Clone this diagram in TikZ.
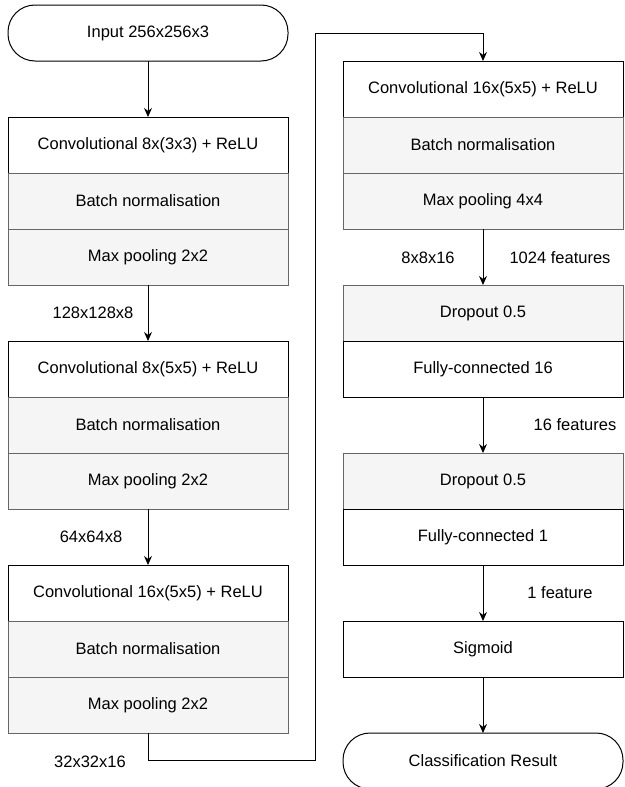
\documentclass[tikz,border=0pt]{standalone}
\usepackage{fontspec}
\setmainfont{Liberation Sans}
\usetikzlibrary{arrows.meta, positioning}
\definecolor{boxgray}{HTML}{F5F5F5}
\definecolor{linegray}{HTML}{666666}

\begin{document}
\begin{tikzpicture}[
    x=1pt, y=1pt,
    node distance=56pt,
    font=\fontsize{16.5}{20}\selectfont,
    layer/.style={rectangle, draw=black, fill=white, line width=1pt, minimum width=280pt, minimum height=56pt, outer sep=0pt, inner sep=0pt},
    sublayer/.style={layer, draw=linegray, fill=boxgray},
    terminal/.style={layer, rounded corners=27pt},
    dims/.style={inner sep=0pt},
    flow/.style={-{Stealth[length=9pt, width=8pt]}, line width=1pt}
]
    \useasboundingbox (0,0) rectangle (624,-787);
    % left column
    \node[terminal] (input) at (148,-33) {Input 256x256x3};
    \node[layer, below=of input] (conva) {Convolutional 8x(3x3) + ReLU};
    \node[sublayer, below=0pt of conva] (norma) {Batch normalisation};
    \node[sublayer, below=0pt of norma] (poola) {Max pooling 2x2};
    \node[layer, below=of poola] (convb) {Convolutional 8x(5x5) + ReLU};
    \node[sublayer, below=0pt of convb] (normb) {Batch normalisation};
    \node[sublayer, below=0pt of normb] (poolb) {Max pooling 2x2};
    \node[layer, below=of poolb] (convc) {Convolutional 16x(5x5) + ReLU};
    \node[sublayer, below=0pt of convc] (normc) {Batch normalisation};
    \node[sublayer, below=0pt of normc] (poolc) {Max pooling 2x2};
    % right column
    \node[layer] (convd) at (483,-89) {Convolutional 16x(5x5) + ReLU};
    \node[sublayer, below=0pt of convd] (normd) {Batch normalisation};
    \node[sublayer, below=0pt of normd] (poold) {Max pooling 4x4};
    \node[sublayer, below=of poold] (dropa) {Dropout 0.5};
    \node[layer, below=0pt of dropa] (fca) {Fully-connected 16};
    \node[sublayer, below=of fca] (dropb) {Dropout 0.5};
    \node[layer, below=0pt of dropb] (fcb) {Fully-connected 1};
    \node[layer, below=of fcb] (sigm) {Sigmoid};
    \node[terminal, below=of sigm] (result) {Classification Result};
    % sizes
    \node[dims] (sizea) at (93,-313) {128x128x8};
    \node[dims] (sizeb) at (91,-537) {64x64x8};
    \node[dims] (sizec) at (90,-762) {32x32x16};
    \node[dims] (sized) at (428,-258) {8x8x16};
    \node[dims] (feata) at (560,-258) {1024 features};
    \node[dims] (featb) at (575,-425) {16 features};
    \node[dims] (featc) at (560,-593) {1 feature};
    % connectors
    \coordinate (turn) at (315,-760);
    \coordinate (over) at (315,-33);
    \draw[flow] (input) -- (conva);
    \draw[flow] (poola) -- (convb);
    \draw[flow] (poolb) -- (convc);
    \draw[flow] (poolc.south) |- (turn) -- (over) -| (convd.north);
    \draw[flow] (poold) -- (dropa);
    \draw[flow] (fca) -- (dropb);
    \draw[flow] (fcb) -- (sigm);
    \draw[flow] (sigm) -- (result);
\end{tikzpicture}
\end{document}
